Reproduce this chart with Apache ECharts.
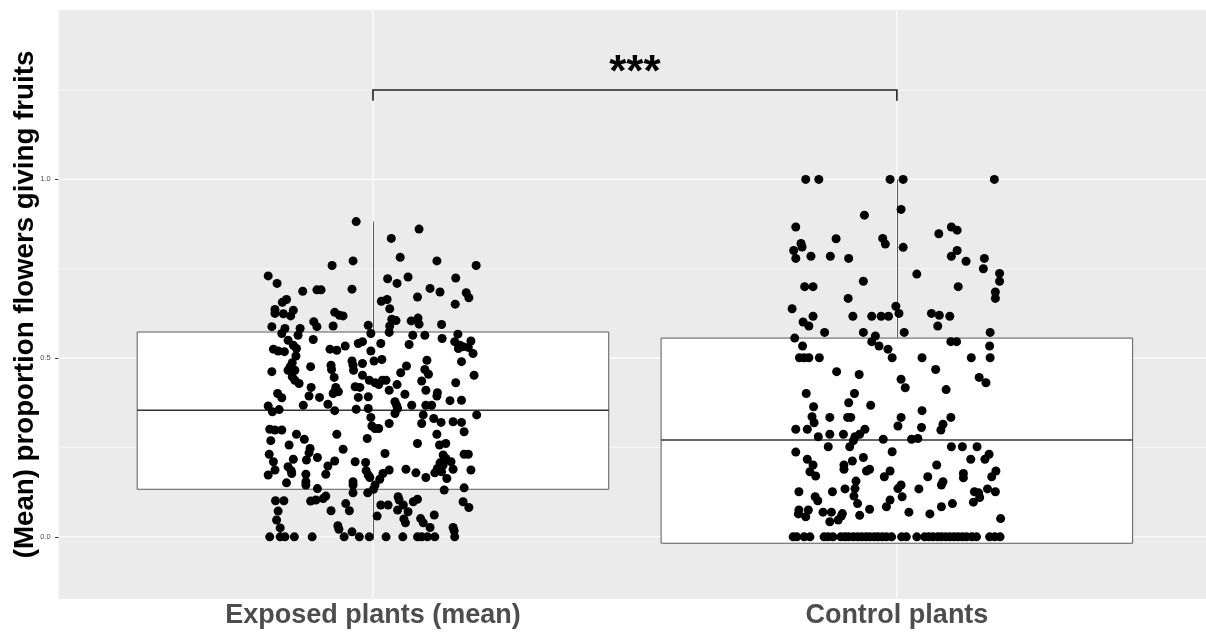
<!DOCTYPE html>
<html>
<head>
<meta charset="utf-8">
<style>
html,body{margin:0;padding:0;background:#ffffff;}
#chart{width:1206px;height:632px;}
</style>
<script src="https://cdn.jsdelivr.net/npm/echarts@6.0.0/dist/echarts.min.js"></script>
</head>
<body>
<div id="chart"></div>
<script>
// ---------- data ----------
const categories = ['Exposed plants (mean)', 'Control plants'];
const yTicks = [0, 0.5, 1.0];
const yMinorTicks = [0.25, 0.75, 1.25];

// box statistics: [lower whisker, Q1, median, Q3, upper whisker]
const exposedBox = [0, 0.133, 0.354, 0.573, 0.882];
const controlBox = [-0.018, -0.018, 0.271, 0.556, 1.0];

// jittered observations: [horizontal jitter (category units), proportion]
const exposedPoints = [
[-0.032,0.882],[0.088,0.861],[0.035,0.835],[0.052,0.782],[0.122,0.772],[0.197,0.759],[-0.038,0.772],[-0.078,0.759],[-0.200,0.730],[-0.183,0.709],
[-0.134,0.687],[-0.107,0.691],[-0.099,0.691],[-0.040,0.693],[0.028,0.722],[0.046,0.709],[0.067,0.727],[0.158,0.724],[0.109,0.695],[0.128,0.685],
[0.085,0.671],[0.178,0.683],[0.183,0.669],[0.157,0.651],[-0.173,0.656],[-0.165,0.664],[-0.187,0.636],[-0.187,0.625],[-0.171,0.624],[-0.152,0.634],
[-0.157,0.618],[-0.073,0.628],[-0.064,0.620],[-0.057,0.618],[0.016,0.659],[0.027,0.664],[0.032,0.638],[0.036,0.609],[0.044,0.605],[0.073,0.604],
[0.086,0.612],[-0.113,0.602],
[-0.193,0.588],[-0.168,0.583],[-0.174,0.569],[-0.139,0.583],[-0.143,0.564],[-0.107,0.588],[-0.076,0.590],[-0.009,0.592],[-0.004,0.569],[0.032,0.590],
[0.031,0.572],[0.088,0.595],[0.131,0.594],[0.076,0.564],[0.099,0.564],[0.132,0.555],[0.162,0.567],[-0.162,0.550],[-0.114,0.552],[0.156,0.546],
[0.166,0.536],[0.172,0.532],[0.187,0.548],[0.182,0.530],[0.163,0.527],[-0.152,0.536],[-0.146,0.527],[-0.190,0.525],[-0.181,0.520],[-0.169,0.518],
[-0.082,0.525],[-0.069,0.522],[-0.053,0.534],[-0.028,0.541],[-0.020,0.546],[0.015,0.541],[-0.004,0.520],[0.069,0.538],[0.191,0.513],[-0.147,0.506],
[-0.154,0.487],[-0.158,0.476],[-0.162,0.466],[-0.149,0.466],[-0.193,0.462],[-0.119,0.476],[-0.080,0.480],[-0.079,0.468],[-0.040,0.492],[-0.038,0.480],
[-0.037,0.466],[-0.020,0.485],[0.002,0.492],[0.017,0.496],[0.103,0.494],[0.064,0.478],[0.053,0.459],[0.099,0.468],[0.106,0.455],[0.169,0.490],
[0.193,0.452],[-0.074,0.446],[-0.020,0.452],[-0.154,0.448],[-0.149,0.438],[-0.141,0.429],[-0.007,0.438],[0.004,0.431],[0.011,0.426],[0.018,0.438],
[0.025,0.438],[0.046,0.426],[0.093,0.436],[0.158,0.431],[-0.118,0.418],[-0.071,0.418],[-0.073,0.406],[-0.066,0.406],[-0.034,0.420],[-0.025,0.418],
[0.031,0.410],[0.101,0.410],[0.123,0.403],[0.122,0.394],[0.061,0.399],[-0.182,0.401],[-0.174,0.389],[-0.122,0.394],[-0.102,0.390],[-0.076,0.401],
[-0.028,0.390],[-0.009,0.392],[-0.200,0.366],[-0.192,0.350],[-0.179,0.356],[-0.133,0.368],[-0.086,0.371],[-0.073,0.353],[-0.032,0.357],[-0.009,0.359],
[0.042,0.378],[0.045,0.368],[0.047,0.359],[0.074,0.368],[0.101,0.368],[0.112,0.368],[0.147,0.381],[0.169,0.382],[0.042,0.345],[-0.004,0.334],
[0.096,0.341],[0.198,0.341],[0.116,0.331],[0.093,0.317],[0.130,0.320],[0.153,0.322],[0.169,0.320],[0.031,0.317],[-0.002,0.310],[0.004,0.303],
[0.011,0.303],[-0.197,0.301],[-0.187,0.299],[-0.174,0.299],[-0.146,0.287],[-0.069,0.287],[0.122,0.287],[0.174,0.294],
[-0.195,0.269],[-0.160,0.257],[-0.131,0.273],[-0.011,0.275],[0.085,0.261],[0.127,0.257],[0.139,0.261],[-0.120,0.247],[-0.122,0.235],[-0.057,0.245],
[-0.198,0.231],[-0.190,0.210],[-0.152,0.217],[-0.127,0.215],[-0.106,0.222],[-0.073,0.212],[-0.086,0.198],[-0.034,0.210],[-0.014,0.208],[0.023,0.233],
[0.134,0.229],[0.139,0.219],[0.128,0.207],[0.149,0.210],[0.174,0.231],[0.182,0.231],[0.134,0.201],[0.123,0.191],[0.131,0.182],[0.118,0.179],
[0.153,0.189],[-0.162,0.196],[-0.156,0.185],[-0.187,0.187],[-0.200,0.173],[-0.155,0.177],[-0.128,0.175],[-0.090,0.175],[-0.013,0.185],[-0.009,0.173],
[-0.006,0.166],[0.019,0.177],[0.031,0.187],[0.063,0.189],[0.082,0.179],[0.101,0.166],[0.187,0.187],[0.141,0.163],[-0.128,0.154],[-0.128,0.145],
[-0.165,0.151],[-0.106,0.135],[-0.038,0.154],[-0.038,0.145],[0.013,0.161],[0.004,0.145],[0.001,0.133],[0.136,0.131],[0.174,0.137],[-0.010,0.123],
[-0.038,0.123],[-0.090,0.114],[-0.095,0.107],[-0.186,0.101],[-0.170,0.101],[-0.119,0.100],[-0.109,0.103],[-0.052,0.093],[0.048,0.112],[0.050,0.103],
[0.077,0.098],[0.085,0.105],[0.015,0.089],[0.029,0.089],[0.058,0.089],[0.172,0.098],[0.183,0.082],[-0.181,0.072],[-0.080,0.073],[-0.045,0.073],
[0.047,0.075],[0.067,0.070],[0.117,0.061],[-0.184,0.047],[0.008,0.058],[0.059,0.050],[0.062,0.039],[0.091,0.051],[0.096,0.039],[-0.177,0.025],
[-0.067,0.031],[-0.065,0.021],[-0.040,0.014],[0.109,0.026],[0.153,0.026],[0.155,0.017],
[-0.197,0],[-0.177,0],[-0.168,0],[-0.150,0],[-0.116,0],[-0.055,0],[-0.026,0],[-0.007,0],[0.025,0],[0.057,0],
[0.085,0],[0.093,0],[0.104,0],[0.118,0],[0.156,0]
];

const controlPoints = [
[-0.174,1],[-0.149,1],[-0.013,1],[0.012,1],[0.186,1],[0.008,0.916],[-0.062,0.900],[-0.193,0.867],[0.104,0.867],[0.115,0.858],
[0.080,0.848],[-0.116,0.834],[-0.027,0.835],[-0.022,0.819],[-0.183,0.821],[-0.181,0.811],[-0.197,0.801],[0.012,0.810],[0.115,0.801],[-0.193,0.779],
[-0.164,0.785],[-0.127,0.785],[-0.092,0.779],[0.104,0.785],[0.132,0.771],[0.167,0.779],[0.165,0.750],[0.196,0.737],[0.196,0.715],[0.038,0.735],
[-0.064,0.715],[-0.176,0.700],[-0.160,0.700],[0.117,0.700],[0.188,0.685],
[0.188,0.667],[-0.200,0.638],[-0.093,0.667],[-0.002,0.645],[0.004,0.625],[-0.160,0.617],[-0.179,0.601],[-0.168,0.590],[-0.084,0.617],[-0.048,0.617],
[-0.030,0.617],[-0.016,0.617],[0.066,0.625],[0.081,0.620],[0.101,0.617],[0.078,0.590],[-0.138,0.572],[-0.064,0.572],[-0.041,0.562],[0.014,0.572],
[0.178,0.572],[-0.195,0.556],[-0.048,0.546],[0.103,0.546],[0.114,0.546],[-0.180,0.534],[-0.034,0.534],[0.177,0.534],[-0.017,0.525],[-0.186,0.501],
[-0.177,0.501],[-0.168,0.501],[-0.148,0.501],[-0.009,0.501],[0.048,0.501],[0.142,0.501],[0.178,0.501],[-0.115,0.462],[-0.072,0.454],[0.074,0.468],
[0.008,0.441],[0.016,0.417],[0.157,0.446],[0.170,0.431],[0.094,0.412],[-0.173,0.401],[-0.081,0.401],[-0.092,0.375],[-0.050,0.368],[-0.159,0.364],
[0.048,0.353],
[-0.162,0.336],[-0.158,0.319],[-0.128,0.334],[-0.094,0.334],[-0.088,0.334],[0.008,0.334],[0.103,0.334],[-0.193,0.301],[-0.171,0.301],[-0.150,0.280],
[-0.128,0.287],[-0.102,0.287],[-0.080,0.280],[-0.071,0.287],[-0.061,0.301],[-0.083,0.269],[-0.090,0.252],[-0.131,0.252],[0.002,0.310],[0.047,0.306],
[0.088,0.315],[0.084,0.299],[-0.026,0.273],[0.028,0.273],[0.040,0.275],[-0.193,0.237],[-0.171,0.217],[-0.160,0.201],[-0.166,0.182],[-0.155,0.170],
[-0.009,0.238],[0.104,0.252],[0.125,0.252],[0.153,0.252],[0.176,0.231],[0.168,0.217],[0.141,0.217],[-0.064,0.222],[-0.085,0.212],[-0.101,0.201],
[-0.101,0.189],[-0.052,0.189],[-0.058,0.184],[-0.013,0.184],[-0.024,0.168],[0.076,0.201],[0.059,0.168],[0.088,0.154],[0.085,0.145],[0.127,0.177],
[0.127,0.165],[0.189,0.184],[0.181,0.168],[-0.078,0.156],[-0.080,0.135],[-0.099,0.134],[0.008,0.145],[0.002,0.135],[0.042,0.134],[-0.187,0.126],
[-0.123,0.126],[-0.082,0.114],[-0.075,0.093],[-0.156,0.112],[-0.151,0.101],[-0.013,0.103],[-0.020,0.084],[0.010,0.112],[0.148,0.126],[0.156,0.123],
[0.158,0.110],[0.146,0.097],[0.173,0.134],[0.188,0.126],[0.106,0.093],[0.085,0.084],[-0.052,0.077],[-0.187,0.075],[-0.188,0.064],[-0.169,0.075],
[-0.174,0.056],[-0.141,0.069],[-0.125,0.069],[-0.128,0.042],[-0.112,0.047],[-0.106,0.058],[-0.104,0.065],[-0.071,0.060],[0.023,0.069],[0.063,0.064],
[0.198,0.051],
[-0.198,0],[-0.191,0],[-0.177,0],[-0.166,0],[-0.139,0],[-0.131,0],[-0.122,0],[-0.107,0],[-0.099,0],[-0.092,0],
[-0.083,0],[-0.075,0],[-0.067,0],[-0.059,0],[-0.052,0],[-0.043,0],[-0.036,0],[-0.028,0],[-0.020,0],[-0.010,0],
[0.009,0],[0.018,0],[0.038,0],[0.053,0],[0.061,0],[0.069,0],[0.078,0],[0.085,0],[0.093,0],[0.101,0],
[0.109,0],[0.117,0],[0.125,0],[0.133,0],[0.143,0],[0.152,0],[0.177,0],[0.187,0],[0.197,0]
];

// significance annotation
const sigPair = [1, 2];
const sigBarY = 1.25;
const sigTipY = 1.22;
const sigLabel = '***';
const sigLabelY = 1.295;

// ---------- chart ----------
const FONT = '"Liberation Sans", Arial, Helvetica, sans-serif';
const BOX_HALF = 0.45;
const chart = echarts.init(document.getElementById('chart'), null, {renderer: 'canvas'});

const gridLineData = []
  .concat(yTicks.map(v => [0, v, 1.1]))
  .concat(yMinorTicks.map(v => [0, v, 0.6]))
  .concat(categories.map((c, i) => [1, i + 1, 1.1]));

const boxData = [[1].concat(exposedBox), [2].concat(controlBox)];

const option = {
  animation: false,
  backgroundColor: '#ffffff',
  grid: {
    left: 58.6, right: 0, top: 10, bottom: 33,
    containLabel: false, outerBoundsMode: 'none',
    show: true, backgroundColor: '#EBEBEB', borderWidth: 0
  },
  xAxis: {
    type: 'value', min: 0.4, max: 2.59,
    splitLine: {show: false},
    axisLine: {show: false},
    axisTick: {show: true, customValues: [1, 2], length: 3.5, lineStyle: {color: '#333333', width: 1}},
    axisLabel: {
      customValues: [1, 2],
      formatter: v => categories[Math.round(v) - 1],
      fontSize: 27, fontWeight: 'bold', color: '#4D4D4D', fontFamily: FONT, margin: 3
    }
  },
  yAxis: {
    type: 'value', min: -0.174, max: 1.474,
    splitLine: {show: false},
    axisLine: {show: false},
    axisTick: {show: true, customValues: yTicks, length: 3.5, lineStyle: {color: '#333333', width: 1}},
    axisLabel: {
      customValues: yTicks,
      formatter: v => v.toFixed(1),
      fontSize: 7.5, color: '#4D4D4D', fontFamily: FONT, margin: 8
    },
    name: '(Mean) proportion flowers giving fruits',
    nameLocation: 'middle', nameRotate: 90, nameGap: 19, nameMoveOverlap: false,
    nameTextStyle: {fontSize: 27.7, fontWeight: 'bold', color: '#000000', fontFamily: FONT}
  },
  series: [
    {
      type: 'custom', z: 1, silent: true,
      data: gridLineData,
      renderItem: (params, api) => {
        const cs = params.coordSys;
        const kind = api.value(0), v = api.value(1), w = api.value(2);
        if (kind === 0) {
          const y = api.coord([1, v])[1];
          return {type: 'line', shape: {x1: cs.x, y1: y, x2: cs.x + cs.width, y2: y},
                  style: {stroke: '#ffffff', lineWidth: w}};
        }
        const x = api.coord([v, 0])[0];
        return {type: 'line', shape: {x1: x, y1: cs.y, x2: x, y2: cs.y + cs.height},
                style: {stroke: '#ffffff', lineWidth: w}};
      }
    },
    {
      type: 'custom', z: 2, silent: true,
      data: boxData,
      renderItem: (params, api) => {
        const x = api.value(0);
        const lo = api.value(1), q1 = api.value(2), med = api.value(3), q3 = api.value(4), hi = api.value(5);
        const pTL = api.coord([x - BOX_HALF, q3]);
        const pBR = api.coord([x + BOX_HALF, q1]);
        const pMed = api.coord([x, med]);
        const pHi = api.coord([x, hi]);
        const pLo = api.coord([x, lo]);
        const cx = Math.round(pMed[0]) + 0.5;
        const children = [];
        if (hi > q3) children.push({type: 'line', shape: {x1: cx, y1: pTL[1], x2: cx, y2: pHi[1]},
          style: {stroke: '#5a5a5a', lineWidth: 1}});
        if (lo < q1) children.push({type: 'line', shape: {x1: cx, y1: pBR[1], x2: cx, y2: pLo[1]},
          style: {stroke: '#5a5a5a', lineWidth: 1}});
        children.push({type: 'rect',
          shape: {x: pTL[0], y: pTL[1], width: pBR[0] - pTL[0], height: pBR[1] - pTL[1]},
          style: {fill: '#ffffff', stroke: '#5a5a5a', lineWidth: 1}});
        children.push({type: 'line', shape: {x1: pTL[0], y1: pMed[1], x2: pBR[0], y2: pMed[1]},
          style: {stroke: '#333333', lineWidth: 1.6}});
        return {type: 'group', children: children};
      }
    },
    {
      type: 'scatter', z: 3, silent: true,
      symbol: 'circle', symbolSize: 9,
      itemStyle: {color: '#000000', opacity: 1},
      data: exposedPoints.map(p => [1 + p[0], p[1]])
    },
    {
      type: 'scatter', z: 3, silent: true,
      symbol: 'circle', symbolSize: 9,
      itemStyle: {color: '#000000', opacity: 1},
      data: controlPoints.map(p => [2 + p[0], p[1]])
    },
    {
      type: 'custom', z: 4, silent: true,
      data: [[sigPair[0], sigPair[1], sigBarY, sigTipY, sigLabelY]],
      renderItem: (params, api) => {
        const a = api.value(0), b = api.value(1), bar = api.value(2), tip = api.value(3), ly = api.value(4);
        const p1 = api.coord([a, tip]), p2 = api.coord([a, bar]), p3 = api.coord([b, bar]), p4 = api.coord([b, tip]);
        const pl = api.coord([(a + b) / 2, ly]);
        return {type: 'group', children: [
          {type: 'polyline', shape: {points: [p1, p2, p3, p4]},
           style: {stroke: '#222222', lineWidth: 1.6, fill: null}},
          {type: 'text', x: pl[0], y: pl[1],
           style: {text: sigLabel, fontSize: 44, fontWeight: 'bold', fill: '#000000',
                   fontFamily: FONT, align: 'center', verticalAlign: 'middle'}}
        ]};
      }
    }
  ]
};

chart.setOption(option);
</script>
</body>
</html>
